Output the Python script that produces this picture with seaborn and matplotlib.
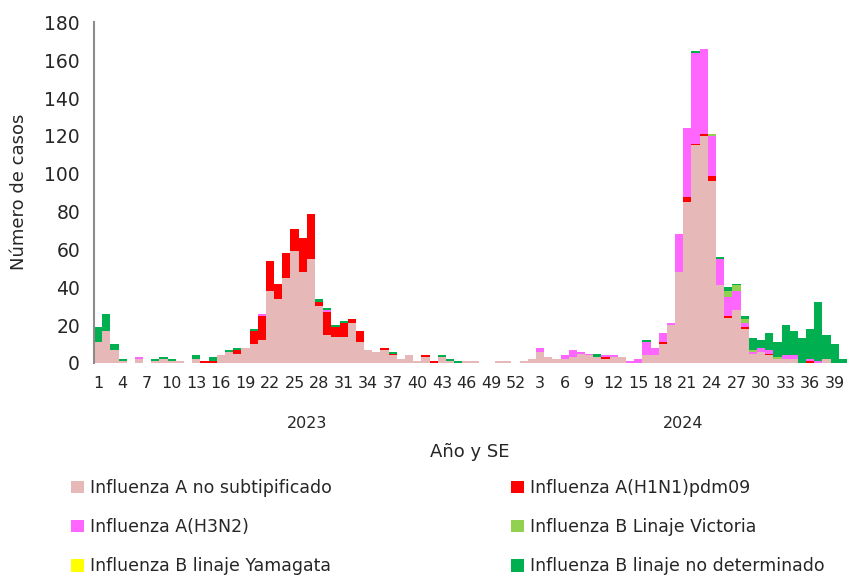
import numpy as np
import pandas as pd
import matplotlib
matplotlib.use("Agg")
import matplotlib.pyplot as plt
import matplotlib.transforms as mtransforms
from matplotlib.patches import Patch
import seaborn as sns

# ---------------- data ----------------
years = ["2023", "2024"]
weeks_2023 = list(range(1, 53))
weeks_2024 = list(range(1, 41))

series_names = [
    "Influenza A no subtipificado",
    "Influenza A(H1N1)pdm09",
    "Influenza A(H3N2)",
    "Influenza B Linaje Victoria",
    "Influenza B linaje Yamagata",
    "Influenza B linaje no determinado",
]
series_colors = ["#E6B8B7", "#FF0000", "#FF66FF", "#92D050", "#FFFF00", "#00B050"]

a_nosub_2023 = [11, 17, 7, 1, 0, 2, 0, 1, 2, 1,
                1, 0, 2, 0, 0, 4, 6, 5, 8, 10,
                12, 38, 34, 45, 59, 48, 55, 30, 15, 14,
                14, 21, 11, 7, 6, 7, 4, 2, 4, 1,
                3, 0, 3, 1, 0, 1, 1, 0, 0, 1,
                1, 0]
h1n1_2023 = [0, 0, 0, 0, 0, 0, 0, 0, 0, 0,
             0, 0, 0, 1, 1, 0, 0, 2, 0, 7,
             13, 16, 8, 13, 12, 18, 24, 2, 12, 5,
             7, 2, 6, 0, 0, 1, 1, 0, 0, 0,
             1, 1, 0, 0, 0, 0, 0, 0, 0, 0,
             0, 0]
h3n2_2023 = [0, 0, 0, 0, 0, 1, 0, 0, 0, 0,
             0, 0, 0, 0, 0, 0, 0, 0, 0, 0,
             1, 0, 0, 0, 0, 0, 0, 0, 1, 0,
             0, 0, 0, 0, 0, 0, 0, 0, 0, 0,
             0, 0, 0, 0, 0, 0, 0, 0, 0, 0,
             0, 0]
victoria_2023 = [0] * 52
yamagata_2023 = [0] * 52
b_nodet_2023 = [8, 9, 3, 1, 0, 0, 0, 1, 1, 1,
                0, 0, 2, 0, 2, 0, 1, 1, 0, 1,
                0, 0, 0, 0, 0, 0, 0, 2, 1, 1,
                1, 0, 0, 0, 0, 0, 1, 0, 0, 0,
                0, 0, 1, 1, 1, 0, 0, 0, 0, 0,
                0, 0]

a_nosub_2024 = [1, 2, 6, 3, 2, 2, 3, 5, 4, 3,
                2, 3, 3, 0, 0, 4, 4, 10, 20, 48,
                85, 115, 120, 96, 41, 24, 28, 18, 5, 6,
                4, 2, 2, 2, 0, 0, 0, 2, 0, 0]
h1n1_2024 = [0, 0, 0, 0, 0, 0, 0, 0, 0, 0,
             1, 0, 0, 0, 0, 0, 0, 1, 0, 0,
             3, 1, 1, 3, 0, 1, 0, 1, 0, 0,
             1, 0, 0, 0, 0, 1, 0, 0, 0, 0]
h3n2_2024 = [0, 0, 2, 0, 0, 2, 4, 1, 1, 0,
             1, 1, 0, 1, 2, 7, 4, 5, 1, 20,
             36, 48, 45, 21, 14, 10, 10, 2, 1, 2,
             2, 0, 2, 2, 0, 1, 1, 0, 0, 0]
victoria_2024 = [0, 0, 0, 0, 0, 0, 0, 0, 0, 0,
                 0, 0, 0, 0, 0, 0, 0, 0, 0, 0,
                 0, 0, 0, 1, 0, 3, 3, 2, 1, 0,
                 0, 1, 0, 0, 0, 0, 0, 0, 0, 0]
yamagata_2024 = [0] * 40
b_nodet_2024 = [0, 0, 0, 0, 0, 0, 0, 0, 0, 2,
                0, 0, 0, 0, 0, 1, 0, 0, 0, 0,
                0, 1, 0, 0, 1, 2, 1, 2, 6, 4,
                9, 8, 16, 13, 13, 16, 31, 13, 10, 2]

values = {
    series_names[0]: a_nosub_2023 + a_nosub_2024,
    series_names[1]: h1n1_2023 + h1n1_2024,
    series_names[2]: h3n2_2023 + h3n2_2024,
    series_names[3]: victoria_2023 + victoria_2024,
    series_names[4]: yamagata_2023 + yamagata_2024,
    series_names[5]: b_nodet_2023 + b_nodet_2024,
}
week_labels = [str(w) for w in weeks_2023] + [str(w) for w in weeks_2024]
year_of = [years[0]] * len(weeks_2023) + [years[1]] * len(weeks_2024)
n = len(week_labels)

rows = []
for name in series_names:
    for i, v in enumerate(values[name]):
        rows.append({"pos": i, "serie": name, "casos": v})
df = pd.DataFrame(rows)

# ---------------- figure ----------------
sns.set_style("white")
plt.rcParams["font.family"] = ["DejaVu Sans"]

W, H = 847, 578
fig = plt.figure(figsize=(W / 100, H / 100), dpi=100)
ax_left, ax_right, ax_top, ax_bottom = 94, 847, 22.5, 363
ax = fig.add_axes([ax_left / W, 1 - ax_bottom / H,
                   (ax_right - ax_left) / W, (ax_bottom - ax_top) / H])

palette = dict(zip(series_names, series_colors))
# seaborn stacks the last hue level at the bottom
sns.histplot(data=df, x="pos", weights="casos", hue="serie",
             hue_order=series_names[::-1], palette=palette,
             multiple="stack", discrete=True, shrink=1,
             element="bars", alpha=1, linewidth=0, edgecolor="none",
             legend=False, ax=ax)

ax.set_xlim(-0.5, n - 0.5)
ax.set_ylim(0, 180)
ax.set_yticks(range(0, 181, 20))
ax.set_xlabel("")
ax.set_ylabel("")

# x tick labels every 3 weeks
tick_pos, tick_lab = [], []
for i, (lab, yr) in enumerate(zip(week_labels, year_of)):
    w = int(lab)
    if (yr == years[0] and (w - 1) % 3 == 0) or (yr == years[1] and w % 3 == 0):
        tick_pos.append(i)
        tick_lab.append(lab)
ax.set_xticks(tick_pos)
ax.set_xticklabels(tick_lab, fontsize=11.5)
ax.tick_params(axis="x", length=0, pad=9)

axis_gray = "#8C8C8C"
for s in ["top", "right", "bottom"]:
    ax.spines[s].set_visible(False)
ax.spines["left"].set_color(axis_gray)
ax.spines["left"].set_linewidth(1.5)
ax.tick_params(axis="y", direction="inout", length=14, width=1.2,
               color=axis_gray, labelsize=13.5, pad=3)

# year labels centred under their groups
trans = mtransforms.blended_transform_factory(ax.transData, fig.transFigure)
n23 = len(weeks_2023)
ax.text((0 + n23 - 1) / 2, 1 - 423 / H, years[0], transform=trans,
        ha="center", va="center", fontsize=11.5)
ax.text((n23 + n - 1) / 2, 1 - 423 / H, years[1], transform=trans,
        ha="center", va="center", fontsize=11.5)

fig.text(470 / W, 1 - 452 / H, "Año y SE", ha="center", va="center", fontsize=13)
fig.text(19 / W, 1 - 192 / H, "Número de casos", ha="center", va="center",
         rotation=90, fontsize=13)

# legend in two columns
handles = [Patch(facecolor=c, edgecolor="none") for c in series_colors]
col1 = [0, 2, 4]
col2 = [1, 3, 5]
leg_kw = dict(frameon=False, fontsize=12.5, handlelength=0.75, handleheight=0.75,
              handletextpad=0.35, labelspacing=1.22, borderpad=0, borderaxespad=0,
              loc="upper left")
leg1 = fig.legend([handles[i] for i in col1], [series_names[i] for i in col1],
                  bbox_to_anchor=(71 / W, 1 - 479 / H), **leg_kw)
leg2 = fig.legend([handles[i] for i in col2], [series_names[i] for i in col2],
                  bbox_to_anchor=(511 / W, 1 - 479 / H), **leg_kw)

fig.savefig("out.png", dpi=100)
